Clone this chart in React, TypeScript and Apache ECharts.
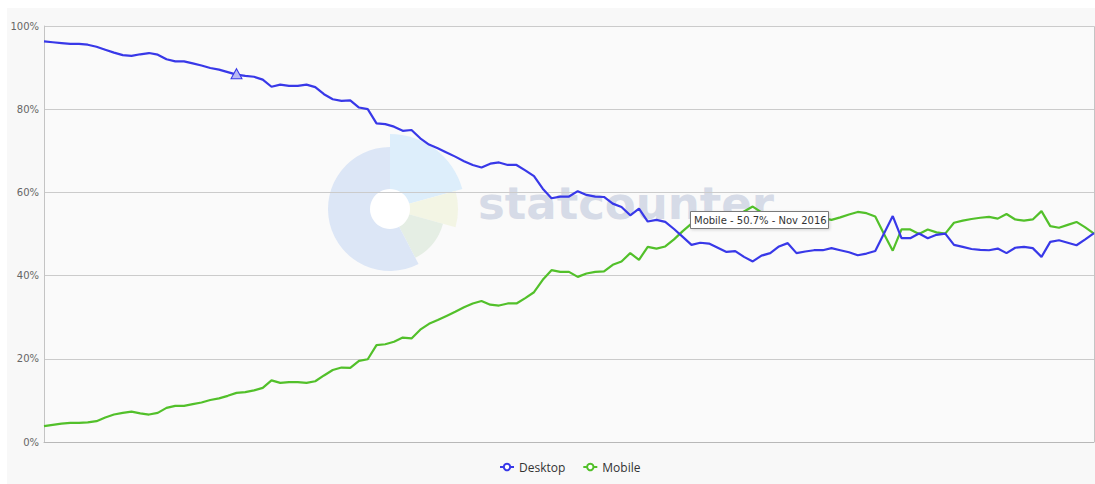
import React, { useEffect, useRef } from "react";
import * as echarts from "echarts";

const MONTH_NAMES = ["Jan", "Feb", "Mar", "Apr", "May", "Jun", "Jul", "Aug", "Sep", "Oct", "Nov", "Dec"];
const START_YEAR = 2010;
const START_MONTH = 9; // Oct
const POINT_COUNT = 121;
const categories: string[] = [];
for (let i = 0; i < POINT_COUNT; i++) {
  const m = START_MONTH + i;
  categories.push(`${MONTH_NAMES[m % 12]} ${START_YEAR + Math.floor(m / 12)}`);
}

const desktop = [
  96.3, 96.1, 95.9, 95.7, 95.7, 95.5, 95.0, 94.3, 93.6, 93.0,
  92.8, 93.2, 93.5, 93.1, 92.0, 91.5, 91.5, 91.0, 90.5, 89.9,
  89.5, 88.9, 88.3, 88.0, 87.8, 87.1, 85.4, 85.9, 85.6, 85.6,
  85.9, 85.3, 83.6, 82.4, 82.0, 82.1, 80.4, 80.0, 76.6, 76.4,
  75.8, 74.8, 75.0, 73.0, 71.5, 70.6, 69.6, 68.6, 67.5, 66.6,
  66.0, 66.9, 67.2, 66.6, 66.6, 65.3, 63.9, 60.9, 58.6, 59.0,
  59.0, 60.3, 59.4, 59.0, 58.9, 57.3, 56.5, 54.5, 56.1, 53.0,
  53.4, 52.9, 51.2, 49.3, 47.4, 47.9, 47.7, 46.7, 45.7, 45.9,
  44.5, 43.4, 44.8, 45.4, 47.0, 47.8, 45.4, 45.8, 46.1, 46.1,
  46.6, 46.1, 45.6, 44.9, 45.3, 45.9, 50.1, 54.3, 49.0, 49.0,
  50.1, 49.0, 49.8, 50.1, 47.4, 46.9, 46.4, 46.2, 46.1, 46.5,
  45.4, 46.7, 46.9, 46.6, 44.5, 48.1, 48.5, 47.9, 47.3, 48.7,
  50.2,
];

const mobile = [
  3.8, 4.1, 4.4, 4.6, 4.6, 4.7, 5.0, 5.9, 6.6, 7.0,
  7.3, 6.9, 6.6, 7.0, 8.2, 8.7, 8.7, 9.1, 9.5, 10.1,
  10.5, 11.1, 11.8, 12.0, 12.4, 13.0, 14.8, 14.2, 14.4, 14.4,
  14.2, 14.6, 16.0, 17.3, 17.9, 17.8, 19.5, 19.9, 23.3, 23.5,
  24.1, 25.1, 24.9, 27.0, 28.4, 29.3, 30.3, 31.3, 32.4, 33.3,
  33.9, 33.0, 32.8, 33.3, 33.3, 34.6, 36.0, 39.0, 41.3, 40.9,
  40.9, 39.7, 40.5, 40.9, 41.0, 42.6, 43.4, 45.4, 43.8, 46.9,
  46.5, 47.0, 48.7, 50.7, 52.5, 52.0, 52.2, 53.2, 54.2, 54.0,
  55.4, 56.6, 55.2, 54.6, 53.0, 52.2, 54.6, 54.1, 53.8, 53.8,
  53.4, 54.0, 54.7, 55.3, 55.0, 54.2, 50.0, 46.0, 51.1, 51.1,
  50.0, 51.1, 50.4, 50.1, 52.7, 53.2, 53.6, 53.9, 54.1, 53.7,
  54.8, 53.5, 53.2, 53.5, 55.5, 51.9, 51.5, 52.2, 52.9, 51.6,
  50.1,
];

const yTicks = [0, 20, 40, 60, 80, 100];
const seriesNames = ["Desktop", "Mobile"];
const seriesColors = ["#3838e8", "#52c02a"];
const markedLabel = "Aug 2012";
const tooltipLabel = "Nov 2016";

export default function App() {
  const ref = useRef<HTMLDivElement>(null);

  useEffect(() => {
    document.body.style.margin = "0";
    const el = ref.current!;
    const chart = echarts.init(el, undefined, { renderer: "svg" });

    const W = 1088;
    const H = 476;
    const gLeft = 37;
    const gRight = 1;
    const gTop = 18;
    const gBottom = 42;
    const plotW = W - gLeft - gRight;
    const plotH = H - gTop - gBottom;

    const tipIdx = categories.indexOf(tooltipLabel);
    const tipText = `${seriesNames[1]} - ${mobile[tipIdx].toFixed(1)}% - ${tooltipLabel}`;
    const markIdx = categories.indexOf(markedLabel);

    const cx = 383;
    const cy = 201;
    const deg = (c: number) => ((c - 90) * Math.PI) / 180;

    const option: any = {
      animation: false,
      backgroundColor: "#f8f8f8",
      textStyle: { fontFamily: "DejaVu Sans" },
      grid: { left: gLeft, right: gRight, top: gTop, bottom: gBottom, show: false },
      legend: {
        left: 492,
        top: 453,
        padding: 0,
        itemWidth: 14,
        itemHeight: 8,
        itemGap: 17,
        data: seriesNames,
        textStyle: { fontFamily: "Open Sans", fontSize: 12, color: "#333" },
      },
      xAxis: {
        type: "category",
        data: categories,
        boundaryGap: false,
        axisLine: { show: true, lineStyle: { color: "#b8b8b8", width: 1 } },
        axisTick: { show: false },
        axisLabel: { show: false },
        splitLine: { show: false },
      },
      yAxis: {
        type: "value",
        min: 0,
        max: 100,
        interval: 20,
        axisLine: { show: true, lineStyle: { color: "#c4c4c4", width: 1 } },
        axisTick: { show: false },
        axisLabel: {
          formatter: (v: number) => (yTicks.includes(v) ? `${v}%` : ""),
          fontFamily: "DejaVu Sans",
          fontSize: 10,
          color: "#666",
          margin: 5,
        },
        splitLine: { show: true, lineStyle: { color: "#cbcbcb", width: 1 } },
      },
      series: [
        {
          name: seriesNames[0],
          type: "line",
          data: desktop,
          color: seriesColors[0],
          lineStyle: { width: 2.2, color: seriesColors[0] },
          symbol: "emptyCircle",
          symbolSize: 7,
          showSymbol: false,
          z: 3,
          markPoint: {
            symbol: "triangle",
            symbolSize: [11, 10],
            label: { show: false },
            itemStyle: { color: "#b9b9f2", borderColor: seriesColors[0], borderWidth: 1 },
            data: [{ coord: [markedLabel, desktop[markIdx]], symbolOffset: [0, -1] }],
          },
        },
        {
          name: seriesNames[1],
          type: "line",
          data: mobile,
          color: seriesColors[1],
          lineStyle: { width: 2.2, color: seriesColors[1] },
          symbol: "emptyCircle",
          symbolSize: 7,
          showSymbol: false,
          z: 2,
        },
      ],
      graphic: [
        {
          type: "rect",
          z: -20,
          silent: true,
          shape: { x: gLeft, y: gTop, width: plotW, height: plotH },
          style: { fill: "#fafafa" },
        },
        {
          type: "polyline",
          z: -1,
          silent: true,
          shape: { points: [[gLeft, gTop + 0.5], [W - gRight + 0.5, gTop + 0.5], [W - gRight + 0.5, gTop + plotH]] },
          style: { stroke: "#c4c4c4", lineWidth: 1, fill: "none" },
        },
        {
          type: "sector",
          z: -10,
          silent: true,
          shape: { cx, cy, r0: 0, r: 75, startAngle: deg(0), endAngle: deg(74.6) },
          style: { fill: "#ddeefb" },
        },
        {
          type: "sector",
          z: -10,
          silent: true,
          shape: { cx, cy, r0: 0, r: 68, startAngle: deg(74.6), endAngle: deg(105.5) },
          style: { fill: "#f3f5e4" },
        },
        {
          type: "sector",
          z: -10,
          silent: true,
          shape: { cx, cy, r0: 0, r: 55, startAngle: deg(105.5), endAngle: deg(152.6) },
          style: { fill: "#e5eee4" },
        },
        {
          type: "sector",
          z: -10,
          silent: true,
          shape: { cx, cy, r0: 0, r: 62, startAngle: deg(152.6), endAngle: deg(360) },
          style: { fill: "#dce6f6" },
        },
        {
          type: "circle",
          z: -9,
          silent: true,
          shape: { cx, cy, r: 20 },
          style: { fill: "#ffffff" },
        },
        {
          type: "text",
          z: -9,
          silent: true,
          x: 471,
          y: 218,
          style: {
            text: "statcounter",
            font: "bold 45px 'DejaVu Sans'",
            fill: "#d6dbe7",
            textVerticalAlign: "bottom",
            verticalAlign: "bottom",
          },
        },
        {
          type: "group",
          z: 20,
          children: [
            {
              type: "rect",
              z: 20,
              shape: { x: 683.5, y: 203.5, width: 138, height: 17 },
              style: {
                fill: "#ffffff",
                stroke: "#7a7a7a",
                lineWidth: 1,
                shadowBlur: 3,
                shadowOffsetX: 1,
                shadowOffsetY: 1,
                shadowColor: "rgba(0,0,0,0.15)",
              },
            },
            {
              type: "text",
              z: 21,
              x: 687,
              y: 212.5,
              style: {
                text: tipText,
                font: "10px 'DejaVu Sans'",
                fill: "#333",
                verticalAlign: "middle",
                textVerticalAlign: "middle",
              },
            },
          ],
        },
      ],
    };

    chart.setOption(option);
    return () => chart.dispose();
  }, []);

  return (
    <div style={{ position: "relative", width: 1095, height: 484, background: "#ffffff" }}>
      <div
        ref={ref}
        style={{ position: "absolute", left: 7, top: 8, width: 1088, height: 476 }}
      />
    </div>
  );
}
